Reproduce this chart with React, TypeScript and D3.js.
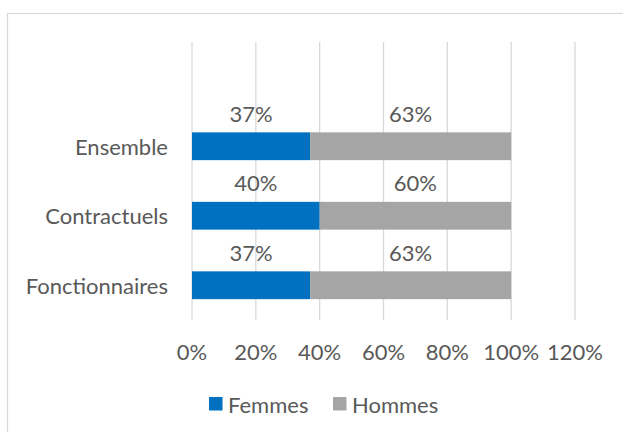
import React from "react";
import * as d3 from "d3";

const categories = ["Ensemble", "Contractuels", "Fonctionnaires"];
const femmes = [0.37, 0.4, 0.37];
const hommes = [0.63, 0.6, 0.63];
const seriesNames = ["Femmes", "Hommes"];
const xTicks = [0, 0.2, 0.4, 0.6, 0.8, 1.0, 1.2];

const W = 623;
const H = 432;
const FONT = "Lato, 'Open Sans', sans-serif";
const FS = 22;
const TEXT = "#595959";
const COLORS = ["#0070C0", "#A5A5A5"];

export default function App() {
  const plotLeft = 192;
  const plotRight = 575;
  const plotTop = 42;
  const plotBottom = 320;
  const x = d3.scaleLinear().domain([0, 1.2]).range([plotLeft, plotRight]);
  const bandH = (plotBottom - plotTop) / (categories.length + 1);
  const y = d3
    .scaleBand<string>()
    .domain(categories)
    .range([plotTop + bandH, plotBottom])
    .paddingInner(0.6)
    .paddingOuter(0.3);
  const fmt = d3.format(".0%");

  const rows = categories.map((c, i) => ({
    cat: c,
    segs: [
      { name: seriesNames[0], x0: 0, x1: femmes[i], v: femmes[i], color: COLORS[0] },
      { name: seriesNames[1], x0: femmes[i], x1: femmes[i] + hommes[i], v: hommes[i], color: COLORS[1] },
    ],
  }));

  return (
    <svg
      width={W}
      height={H}
      style={{ position: "absolute", left: 0, top: 0, background: "#fff" }}
      fontFamily={FONT}
    >
      <rect x={7.5} y={13.5} width={W} height={H} fill="#fff" stroke="#D9D9D9" strokeWidth={1.2} />
      {xTicks.map((t) => (
        <line
          key={t}
          x1={x(t)}
          x2={x(t)}
          y1={plotTop}
          y2={plotBottom}
          stroke="#D9D9D9"
          strokeWidth={1.3}
        />
      ))}
      {rows.map((r) => {
        const yy = y(r.cat)!;
        const bh = y.bandwidth();
        return (
          <g key={r.cat}>
            {r.segs.map((s) => (
              <rect
                key={s.name}
                x={x(s.x0)}
                y={yy}
                width={x(s.x1) - x(s.x0)}
                height={bh}
                fill={s.color}
              />
            ))}
            {r.segs.map((s) => (
              <text
                key={s.name + "l"}
                x={(x(s.x0) + x(s.x1)) / 2}
                y={yy - 19}
                fontSize={FS}
                fill={TEXT}
                textAnchor="middle"
                dominantBaseline="central"
              >
                {fmt(s.v)}
              </text>
            ))}
            <text
              x={168}
              y={yy + bh / 2}
              fontSize={FS}
              fill={TEXT}
              textAnchor="end"
              dominantBaseline="central"
            >
              {r.cat}
            </text>
          </g>
        );
      })}
      {xTicks.map((t) => (
        <text
          key={"t" + t}
          x={x(t)}
          y={351}
          fontSize={FS}
          fill={TEXT}
          textAnchor="middle"
          dominantBaseline="central"
        >
          {fmt(t)}
        </text>
      ))}
      {seriesNames.map((n, i) => {
        const lx = i === 0 ? 209 : 333;
        return (
          <g key={n}>
            <rect x={lx} y={397} width={13.5} height={13.5} fill={COLORS[i]} />
            <text
              x={lx + 19}
              y={404}
              fontSize={FS}
              fill={TEXT}
              dominantBaseline="central"
            >
              {n}
            </text>
          </g>
        );
      })}
    </svg>
  );
}
